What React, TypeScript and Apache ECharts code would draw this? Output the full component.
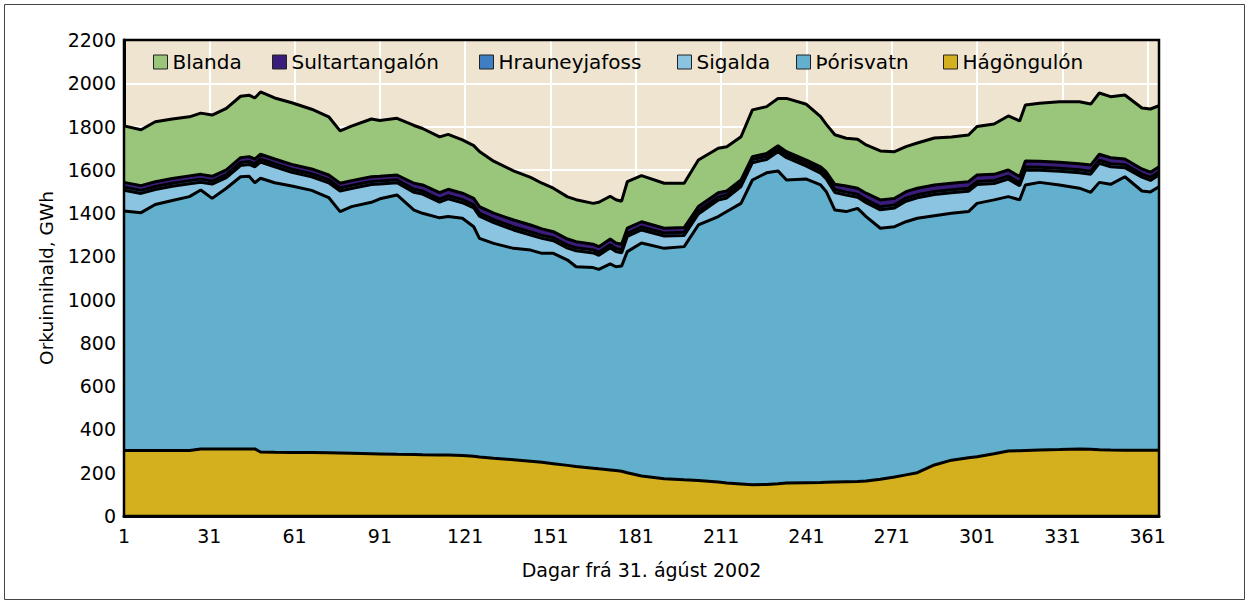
import React, { useEffect, useRef } from "react";
import * as echarts from "echarts";

// Day numbers (days from 31 August 2002) at which the curves were read
const days = [1, 7, 12, 18, 24, 28, 32, 37, 42, 45, 47, 49, 54, 60, 67, 73, 77, 81, 88, 91, 97, 103, 106, 112, 115, 120, 124, 126, 131, 138, 144, 148, 152, 157, 160, 166, 168, 172, 174, 176, 178, 183, 191, 198, 203, 210, 213, 218, 222, 227, 231, 234, 241, 246, 248, 251, 255, 259, 262, 267, 272, 276, 280, 286, 292, 298, 301, 307, 312, 316, 318, 323, 330, 337, 341, 344, 348, 353, 359, 362, 365];

// Energy content per reservoir, GWh (stacked bottom -> top)
const hagongulon = [303, 303, 303, 303, 303, 310, 310, 310, 310, 310, 310, 296, 295, 294, 293, 292, 291, 290, 288, 287, 285, 284, 283, 282, 282, 280, 276, 273, 267, 260, 253, 248, 242, 234, 229, 221, 218, 213, 210, 207, 200, 185, 172, 167, 164, 157, 153, 148, 144, 146, 149, 152, 154, 155, 156, 157, 158, 159, 162, 170, 180, 190, 200, 236, 258, 269, 274, 288, 300, 302, 303, 305, 307, 310, 308, 306, 305, 304, 304, 304, 304];
const thorisvatn = [1107, 1099, 1137, 1155, 1173, 1197, 1158, 1205, 1258, 1260, 1230, 1265, 1245, 1231, 1212, 1180, 1116, 1140, 1162, 1179, 1199, 1130, 1116, 1096, 1102, 1096, 1061, 1010, 993, 977, 976, 966, 972, 949, 923, 927, 922, 952, 942, 948, 1022, 1077, 1065, 1078, 1181, 1227, 1254, 1297, 1409, 1440, 1446, 1401, 1403, 1375, 1343, 1257, 1249, 1263, 1222, 1160, 1157, 1170, 1176, 1152, 1141, 1138, 1171, 1173, 1176, 1159, 1227, 1237, 1223, 1205, 1188, 1236, 1228, 1264, 1198, 1194, 1218];
const sigalda = [96, 89, 69, 66, 60, 36, 66, 49, 52, 55, 74, 75, 74, 64, 63, 68, 95, 84, 82, 68, 56, 82, 89, 73, 82, 72, 87, 103, 96, 85, 70, 69, 58, 55, 74, 68, 65, 75, 70, 61, 70, 60, 57, 52, 51, 76, 63, 78, 80, 62, 88, 103, 60, 54, 59, 81, 76, 51, 64, 85, 87, 95, 95, 98, 95, 94, 87, 76, 81, 65, 69, 56, 63, 71, 84, 88, 81, 42, 64, 53, 54];
const hrauneyjafoss = [14, 14, 14, 14, 14, 14, 14, 14, 14, 14, 14, 14, 14, 14, 14, 14, 14, 14, 14, 14, 14, 14, 14, 14, 14, 14, 14, 14, 14, 14, 14, 14, 14, 14, 14, 14, 14, 14, 14, 14, 14, 14, 14, 14, 14, 14, 14, 14, 14, 14, 14, 14, 14, 14, 14, 14, 14, 14, 14, 14, 14, 14, 14, 14, 14, 14, 14, 14, 14, 14, 14, 14, 14, 14, 14, 14, 14, 14, 14, 14, 14];
const sultartangalon = [22, 22, 22, 22, 22, 22, 22, 22, 22, 22, 22, 22, 22, 22, 22, 22, 22, 22, 22, 22, 22, 28, 28, 30, 30, 30, 30, 30, 30, 32, 32, 30, 28, 28, 28, 26, 26, 26, 26, 26, 24, 24, 22, 22, 20, 20, 18, 16, 14, 14, 14, 14, 14, 16, 18, 24, 28, 28, 30, 32, 30, 30, 30, 30, 30, 30, 30, 28, 28, 28, 28, 28, 28, 28, 28, 28, 28, 26, 24, 24, 24];
const blanda = [261, 258, 277, 275, 273, 283, 283, 284, 284, 284, 282, 288, 282, 285, 276, 269, 242, 252, 267, 258, 262, 267, 261, 257, 254, 246, 244, 255, 240, 227, 220, 211, 201, 195, 194, 189, 205, 198, 200, 199, 215, 213, 208, 205, 215, 206, 205, 200, 216, 216, 219, 246, 258, 232, 220, 229, 221, 226, 223, 226, 216, 208, 209, 217, 214, 216, 224, 233, 250, 258, 259, 268, 280, 287, 282, 283, 282, 296, 282, 292, 282];

const seriesNames = ["Hágöngulón", "Þórisvatn", "Sigalda", "Hrauneyjafoss", "Sultartangalón", "Blanda"];
const seriesValues = [hagongulon, thorisvatn, sigalda, hrauneyjafoss, sultartangalon, blanda];
const seriesColors = ["#d4b01e", "#62b0cd", "#8bc4e0", "#3f7ec2", "#3a1c7a", "#99c67a"];
const legendOrder = ["Blanda", "Sultartangalón", "Hrauneyjafoss", "Sigalda", "Þórisvatn", "Hágöngulón"];

const yName = "Orkuinnihald, GWh";
const xName = "Dagar frá 31. ágúst 2002";
const yMin = 0;
const yMax = 2200;
const yStep = 200;
const xStep = 30; // labelled days 1, 31, 61, ... 361
const firstDay = 1;
const lastDay = 365;
const dayCategories = Array.from({ length: lastDay - firstDay + 1 }, (_, i) => String(firstDay + i));

const W = 1249;
const H = 602;
const GRID = { left: 124, right: 90, top: 40, bottom: 86 };
const FONT = "'DejaVu Sans', sans-serif";
const LEGEND_LEFT = [153, 272, 479, 677, 796, 943];

export default function App() {
  const ref = useRef<HTMLDivElement>(null);

  useEffect(() => {
    document.body.style.margin = "0";
    const chart = echarts.init(ref.current as HTMLDivElement, null, { renderer: "svg" });
    const pw = W - GRID.left - GRID.right;
    const ph = H - GRID.top - GRID.bottom;

    const series = seriesNames.map((name, i) => ({
      name,
      type: "line",
      stack: "total",
      symbol: "none",
      showSymbol: false,
      z: 10 - i,
      data: days.map((d, k) => [d - firstDay, seriesValues[i][k]]),
      lineStyle: { color: "#000", width: 3 },
      itemStyle: { color: seriesColors[i] },
      areaStyle: { color: seriesColors[i], opacity: 1 },
      emphasis: { disabled: true },
    }));

    const legends = legendOrder.map((name, i) => ({
      data: [
        {
          name,
          itemStyle: {
            color: seriesColors[seriesNames.indexOf(name)],
            borderColor: "#222",
            borderWidth: 1,
          },
        },
      ],
      left: LEGEND_LEFT[i],
      top: 52,
      icon: "rect",
      itemWidth: 14,
      itemHeight: 14,
      itemGap: 5,
      padding: 0,
      selectedMode: false,
      textStyle: { fontFamily: FONT, fontSize: 20, color: "#000" },
    }));

    const showTick = (idx: number) => idx % xStep === 0;

    chart.setOption({
      animation: false,
      backgroundColor: "#fff",
      grid: {
        left: GRID.left,
        right: GRID.right,
        top: GRID.top,
        bottom: GRID.bottom,
        show: true,
        backgroundColor: "#efe4d0",
        borderWidth: 0,
      },
      legend: legends,
      xAxis: {
        type: "category",
        data: dayCategories,
        boundaryGap: false,
        name: xName,
        nameLocation: "middle",
        nameGap: 44,
        nameTextStyle: { fontFamily: FONT, fontSize: 19, color: "#000" },
        axisLine: { show: true, lineStyle: { color: "#000", width: 3 } },
        axisTick: { show: false },
        axisLabel: {
          fontFamily: FONT,
          fontSize: 19,
          color: "#000",
          margin: 10,
          interval: showTick,
        },
        splitLine: { show: true, interval: showTick, lineStyle: { color: "#fff", width: 2 } },
      },
      yAxis: {
        type: "value",
        min: yMin,
        max: yMax,
        interval: yStep,
        name: yName,
        nameLocation: "middle",
        nameGap: 68,
        nameTextStyle: { fontFamily: FONT, fontSize: 18.5, color: "#000" },
        axisLine: { show: true, lineStyle: { color: "#000", width: 3 } },
        axisTick: { show: false },
        axisLabel: {
          fontFamily: FONT,
          fontSize: 19,
          color: "#000",
          margin: 8,
          formatter: (v: number) => String(v),
        },
        splitLine: { show: true, lineStyle: { color: "#fff", width: 2 } },
      },
      graphic: [
        {
          type: "rect",
          z: 100,
          silent: true,
          shape: { x: GRID.left, y: GRID.top, width: pw, height: ph },
          style: { fill: "none", stroke: "#000", lineWidth: 2.5 },
        },
        {
          type: "rect",
          z: 100,
          silent: true,
          shape: { x: 4.5, y: 4.5, width: W - 9, height: H - 7 },
          style: { fill: "none", stroke: "#444", lineWidth: 1 },
        },
      ],
      series,
    });

    return () => {
      chart.dispose();
    };
  }, []);

  return <div ref={ref} style={{ width: W, height: H }} />;
}
